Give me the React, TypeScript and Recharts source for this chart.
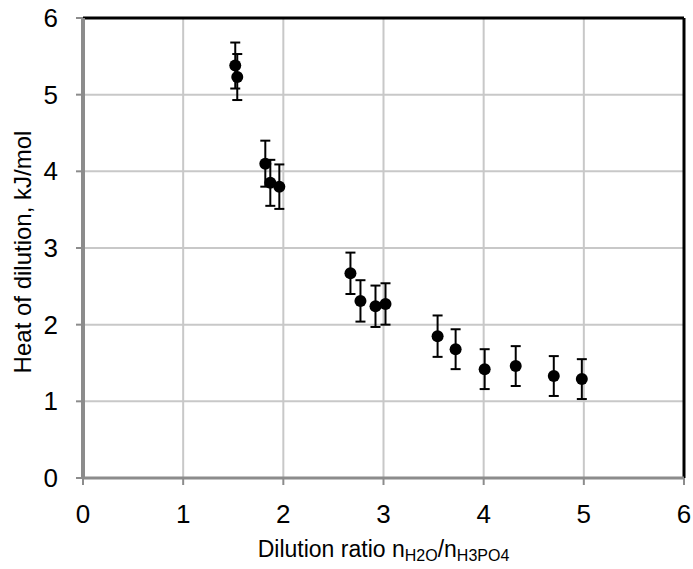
// Heat of dilution vs. dilution ratio — scatter with y error bars

import {
  ScatterChart, Scatter, XAxis, YAxis, CartesianGrid, ErrorBar, ReferenceLine,
} from "recharts";

const ratio = [1.52, 1.54, 1.82, 1.87, 1.96, 2.67, 2.77, 2.92, 3.02, 3.54, 3.72, 4.01, 4.32, 4.70, 4.98];
const heat = [5.38, 5.23, 4.10, 3.85, 3.80, 2.67, 2.31, 2.24, 2.27, 1.85, 1.68, 1.42, 1.46, 1.33, 1.29];
const errs = [0.30, 0.30, 0.30, 0.30, 0.29, 0.27, 0.27, 0.27, 0.27, 0.27, 0.26, 0.26, 0.26, 0.26, 0.26];

const xTicks = [0, 1, 2, 3, 4, 5, 6];
const yTicks = [0, 1, 2, 3, 4, 5, 6];

const points = ratio.map((x, i) => ({ x, y: heat[i], err: errs[i] }));

const FONT = "'Liberation Sans', Arial, sans-serif";
const GRAY = "#8c8c8c";
const TICK_SIZE = 26;

const Dot = (props: any) => {
  const { cx, cy } = props;
  if (cx == null || cy == null) return null;
  return <circle cx={cx} cy={cy} r={6} fill="#000" />;
};

// tick text drawn by hand so the font size sticks
const XTick = (props: any) => {
  const { x, y, payload } = props;
  return (
    <text x={x} y={y + 38} textAnchor="middle" fontFamily={FONT} fontSize={TICK_SIZE} fill="#000">
      {payload.value}
    </text>
  );
};

const YTick = (props: any) => {
  const { x, y, payload } = props;
  return (
    <text x={x} y={y + 9} textAnchor="end" fontFamily={FONT} fontSize={TICK_SIZE} fill="#000">
      {payload.value}
    </text>
  );
};

const XTitle = (props: any) => {
  const vb = props.viewBox || {};
  const cx = vb.x + vb.width / 2;
  return (
    <text x={cx} y={557} textAnchor="middle" fontFamily={FONT} fontSize={23} fill="#000">
      Dilution ratio n
      <tspan fontSize={16} dy={4}>H2O</tspan>
      <tspan dy={-4}>/n</tspan>
      <tspan fontSize={16} dy={4}>H3PO4</tspan>
    </text>
  );
};

const YTitle = () => (
  <text
    x={0}
    y={0}
    transform="translate(31, 252) rotate(-90)"
    textAnchor="middle"
    fontFamily={FONT}
    fontSize={24}
    fill="#000"
  >
    Heat of dilution, kJ/mol
  </text>
);

export default function App() {
  return (
    <div style={{ position: "absolute", left: 0, top: 0, background: "#fff" }}>
      <ScatterChart
        width={693}
        height={569}
        margin={{ top: 18, right: 9, left: 0, bottom: 0 }}
      >
        <CartesianGrid stroke="#c8c8c8" strokeWidth={2} />
        <ReferenceLine y={6} stroke="#000" strokeWidth={3} />
        <ReferenceLine x={6} stroke="#000" strokeWidth={3} />
        <ReferenceLine y={0} stroke="#000" strokeWidth={2} />
        <XAxis
          type="number"
          dataKey="x"
          domain={[0, 6]}
          ticks={xTicks}
          height={91}
          axisLine={{ stroke: GRAY, strokeWidth: 3 }}
          tickLine={{ stroke: GRAY, strokeWidth: 2 }}
          tickSize={7}
          tickMargin={0}
          tick={XTick}
          label={{ content: XTitle }}
        />
        <YAxis
          type="number"
          dataKey="y"
          domain={[0, 6]}
          ticks={yTicks}
          width={83}
          axisLine={{ stroke: GRAY, strokeWidth: 4 }}
          tickLine={{ stroke: GRAY, strokeWidth: 2 }}
          tickSize={7}
          tickMargin={18}
          tick={YTick}
          label={{ content: YTitle }}
        />
        <Scatter data={points} shape={Dot} isAnimationActive={false}>
          <ErrorBar dataKey="err" direction="y" width={5} stroke="#000" strokeWidth={2} />
        </Scatter>
      </ScatterChart>
    </div>
  );
}
